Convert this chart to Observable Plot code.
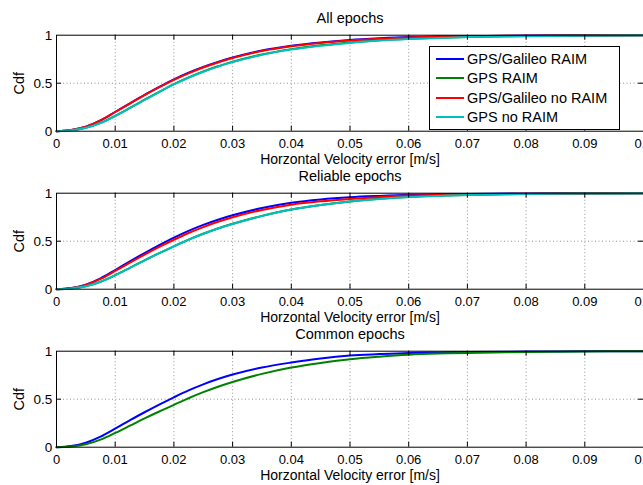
<!DOCTYPE html>
<html><head><meta charset="utf-8">
<script src="https://cdn.jsdelivr.net/npm/d3@7"></script>
<script src="https://cdn.jsdelivr.net/npm/@observablehq/plot@0.6"></script>
<style>
body{margin:0;overflow:hidden;background:#fff;font-family:"Liberation Sans",Arial,Helvetica,sans-serif;}
#wrap{position:relative;width:643px;height:485px;overflow:hidden;}
.panel{position:absolute;left:0;}
#legend{position:absolute;left:429px;top:46px;width:189px;height:82px;border:1px solid #000;background:#fff;font-size:14.5px;color:#000;}
#legend .row{position:absolute;left:0;height:18px;line-height:18px;white-space:nowrap;}
#legend .sw{position:absolute;left:6px;top:8px;width:28px;height:2px;}
#legend .lb{position:absolute;left:37px;top:0;}
</style></head><body><div id="wrap"></div>
<script>
// Data
const xGrid = [0, 0.0025, 0.005, 0.0075, 0.01, 0.0125, 0.015, 0.0175, 0.02, 0.0225, 0.025, 0.0275, 0.03, 0.035, 0.04, 0.045, 0.05, 0.055, 0.06, 0.065, 0.07, 0.08, 0.09, 0.1];
const seriesNames = ["GPS/Galileo RAIM", "GPS RAIM", "GPS/Galileo no RAIM", "GPS no RAIM"];
const seriesColors = ["#0000ff", "#008000", "#ff0000", "#00bfbf"];
const panelTitles = ["All epochs", "Reliable epochs", "Common epochs"];
const xTicks = [0, 0.01, 0.02, 0.03, 0.04, 0.05, 0.06, 0.07, 0.08, 0.09, 0.1];
const xTickLabels = ["0", "0.01", "0.02", "0.03", "0.04", "0.05", "0.06", "0.07", "0.08", "0.09", "0.1"];
const yTicks = [0, 0.5, 1];
const yTickLabels = ["0", "0.5", "1"];
const xLabel = "Horzontal Velocity error [m/s]";
const yLabel = "Cdf";

// All epochs
const allGalRaim   = [0, 0.012, 0.047, 0.112, 0.200, 0.290, 0.378, 0.461, 0.540, 0.610, 0.670, 0.722, 0.768, 0.840, 0.890, 0.925, 0.950, 0.967, 0.980, 0.986, 0.990, 0.996, 0.999, 1];
const allGpsRaim   = [0, 0.009, 0.035, 0.086, 0.160, 0.243, 0.328, 0.410, 0.490, 0.560, 0.622, 0.676, 0.724, 0.800, 0.855, 0.895, 0.925, 0.948, 0.963, 0.974, 0.982, 0.991, 0.996, 1];
const allGalNoRaim = [0, 0.012, 0.047, 0.112, 0.200, 0.288, 0.375, 0.458, 0.535, 0.603, 0.663, 0.716, 0.762, 0.835, 0.885, 0.920, 0.945, 0.963, 0.977, 0.984, 0.989, 0.995, 0.998, 1];
const allGpsNoRaim = [0, 0.009, 0.035, 0.085, 0.158, 0.240, 0.325, 0.408, 0.487, 0.557, 0.619, 0.673, 0.720, 0.795, 0.850, 0.890, 0.920, 0.944, 0.960, 0.971, 0.980, 0.990, 0.995, 1];
// Reliable epochs
const relGalRaim   = [0, 0.012, 0.048, 0.113, 0.200, 0.290, 0.377, 0.460, 0.538, 0.608, 0.670, 0.724, 0.770, 0.845, 0.900, 0.935, 0.958, 0.972, 0.983, 0.988, 0.992, 0.997, 0.999, 1];
const relGpsRaim   = [0, 0.008, 0.030, 0.077, 0.146, 0.223, 0.301, 0.376, 0.447, 0.516, 0.578, 0.633, 0.681, 0.764, 0.831, 0.878, 0.914, 0.941, 0.961, 0.973, 0.981, 0.991, 0.996, 1];
const relGalNoRaim = [0, 0.011, 0.045, 0.107, 0.190, 0.276, 0.360, 0.440, 0.515, 0.585, 0.647, 0.702, 0.750, 0.825, 0.880, 0.915, 0.940, 0.960, 0.975, 0.983, 0.988, 0.995, 0.998, 1];
const relGpsNoRaim = [0, 0.008, 0.030, 0.077, 0.145, 0.222, 0.300, 0.375, 0.446, 0.515, 0.577, 0.632, 0.680, 0.763, 0.830, 0.877, 0.913, 0.940, 0.960, 0.972, 0.980, 0.991, 0.996, 1];
// Common epochs
const comGalRaim   = [0, 0.012, 0.047, 0.110, 0.194, 0.280, 0.364, 0.444, 0.520, 0.592, 0.655, 0.710, 0.757, 0.830, 0.882, 0.925, 0.955, 0.970, 0.982, 0.987, 0.991, 0.996, 0.999, 1];
const comGpsRaim   = [0, 0.008, 0.031, 0.079, 0.149, 0.224, 0.300, 0.372, 0.440, 0.510, 0.573, 0.630, 0.680, 0.764, 0.830, 0.878, 0.917, 0.943, 0.963, 0.975, 0.982, 0.992, 0.997, 1];

const panels = [
  {title: panelTitles[0], series: [allGalRaim, allGpsRaim, allGalNoRaim, allGpsNoRaim]},
  {title: panelTitles[1], series: [relGalRaim, relGpsRaim, relGalNoRaim, relGpsNoRaim]},
  {title: panelTitles[2], series: [comGalRaim, comGpsRaim]}
];

const FONT = '"Liberation Sans", Arial, Helvetica, sans-serif';
const W = 643, H = 158, ML = 56, MR = 0, MT = 34.7, MB = 27.3;
const frameH = H - MT - MB, frameW = W - ML - MR;
const TICK = 5;
const wrap = document.getElementById("wrap");

panels.forEach((p, k) => {
  const lineMarks = p.series.map((vals, j) =>
    Plot.line(xGrid.map((x, i) => ({x, y: vals[i]})), {
      x: "x", y: "y", stroke: seriesColors[j], strokeWidth: 2, curve: "catmull-rom"
    })
  );
  const innerX = xTicks.slice(1, -1);
  const innerY = yTicks.slice(1, -1);
  const chart = Plot.plot({
    width: W, height: H,
    marginLeft: ML, marginRight: MR, marginTop: MT, marginBottom: MB,
    style: {background: "transparent", overflow: "visible", fontFamily: FONT, fontSize: "13px", color: "#000"},
    x: {domain: [0, 0.1], axis: null},
    y: {domain: [0, 1], axis: null},
    marks: [
      Plot.ruleX(innerX, {x: d => d, stroke: "#777", strokeWidth: 0.8, strokeDasharray: "1,2.5"}),
      Plot.ruleY(innerY, {y: d => d, stroke: "#777", strokeWidth: 0.8, strokeDasharray: "1,2.5"}),
      ...lineMarks,
      Plot.tickX(innerX, {x: d => d, stroke: "#000", insetTop: frameH - TICK}),
      Plot.tickX(innerX, {x: d => d, stroke: "#000", insetBottom: frameH - TICK}),
      Plot.tickY(innerY, {y: d => d, stroke: "#000", insetRight: frameW - TICK}),
      Plot.tickY(innerY, {y: d => d, stroke: "#000", insetLeft: frameW - TICK}),
      Plot.frame({stroke: "#000", strokeWidth: 1}),
      Plot.axisX(xTicks, {tickSize: 0, tickPadding: 8, fontSize: 13, fill: "#000", label: null,
        tickFormat: d => xTickLabels[xTicks.indexOf(d)]}),
      Plot.axisY(yTicks, {tickSize: 0, tickPadding: 4.3, fontSize: 13.5, fill: "#000", label: null,
        tickFormat: d => yTickLabels[yTicks.indexOf(d)]}),
      Plot.text([p.title], {text: d => d, frameAnchor: "top", lineAnchor: "middle", dy: -16.7, fontSize: 14.5, fill: "#000"}),
      Plot.text([xLabel], {text: d => d, frameAnchor: "bottom", lineAnchor: "middle", dy: 28.3, fontSize: 14, fill: "#000"}),
      Plot.text([yLabel], {text: d => d, frameAnchor: "left", textAnchor: "middle", lineAnchor: "middle", dx: -37, rotate: -90, fontSize: 14.5, fill: "#000"})
    ]
  });
  const div = document.createElement("div");
  div.className = "panel";
  div.style.top = (k * H) + "px";
  div.appendChild(chart);
  wrap.appendChild(div);
});

// Legend (panel 1)
const legend = document.createElement("div");
legend.id = "legend";
seriesNames.forEach((name, j) => {
  const row = document.createElement("div");
  row.className = "row";
  row.style.top = (3 + j * 19.4) + "px";
  const sw = document.createElement("div");
  sw.className = "sw";
  sw.style.background = seriesColors[j];
  const lb = document.createElement("div");
  lb.className = "lb";
  lb.textContent = name;
  row.appendChild(sw); row.appendChild(lb);
  legend.appendChild(row);
});
wrap.appendChild(legend);
</script>
</body></html>
